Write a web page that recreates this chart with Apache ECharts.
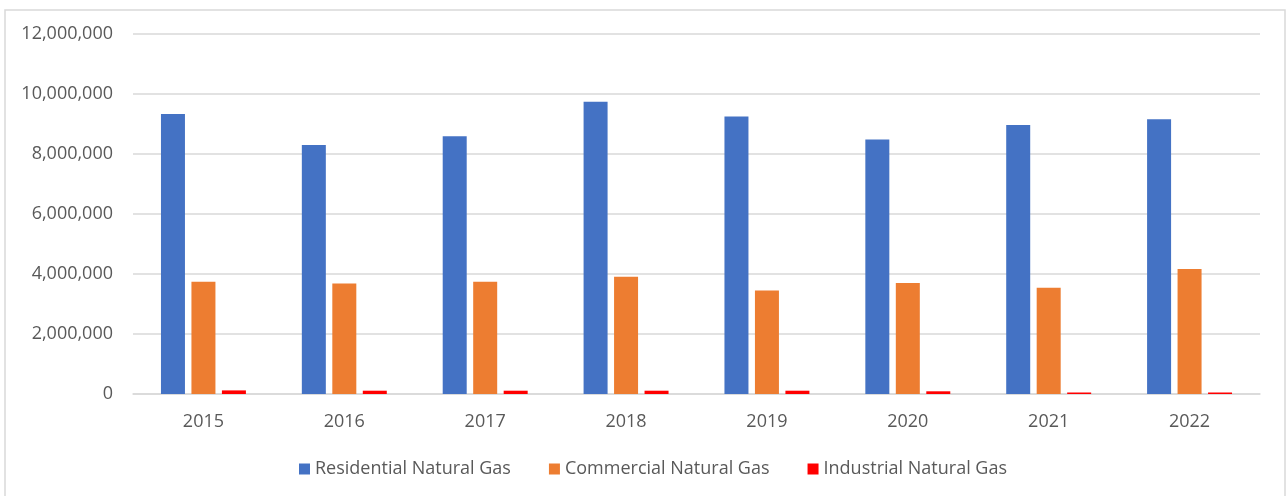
<!DOCTYPE html>
<html>
<head>
<meta charset="utf-8">
<title>Natural Gas</title>
<script src="https://cdn.jsdelivr.net/npm/echarts@6/dist/echarts.min.js"></script>
<style>
    html, body { margin: 0; padding: 0; background: #fff; }
    #chart { width: 1287px; height: 496px; }
</style>
</head>
<body>
<div id="chart"></div>
<script>
// data
const years = ['2015', '2016', '2017', '2018', '2019', '2020', '2021', '2022'];
const residential = [9330000, 8300000, 8590000, 9740000, 9250000, 8480000, 8970000, 9160000];
const commercial = [3740000, 3680000, 3740000, 3910000, 3450000, 3700000, 3540000, 4170000];
const industrial = [120000, 110000, 110000, 110000, 110000, 90000, 50000, 50000];
const seriesNames = ['Residential Natural Gas', 'Commercial Natural Gas', 'Industrial Natural Gas'];

const textColor = '#595959';
const lineColor = '#d9d9d9';
const font = "'Open Sans', sans-serif";

var chartEl = document.getElementById('chart');
var myChart = echarts.init(chartEl);

function bar(name, data, color) {
    return {
        name: name,
        type: 'bar',
        data: data,
        barWidth: 24,
        barGap: '27%',
        itemStyle: { color: color }
    };
}

var option = {
    animation: false,
    backgroundColor: '#fff',
    textStyle: { fontFamily: font },
    // frame around the chart area
    graphic: [{
        type: 'rect',
        shape: { x: 5, y: 10, width: 1280, height: 500 },
        style: { fill: 'none', stroke: lineColor, lineWidth: 1.5 },
        silent: true
    }],
    grid: {
        left: 133,
        right: 27,
        top: 34,
        bottom: 102
    },
    legend: {
        bottom: 13,
        left: 294,
        itemWidth: 11,
        itemHeight: 11,
        itemGap: 38,
        icon: 'rect',
        textStyle: { color: textColor, fontSize: 18, fontFamily: font },
        data: seriesNames
    },
    xAxis: {
        type: 'category',
        data: years,
        axisLine: { lineStyle: { color: lineColor, width: 1.5 } },
        axisTick: { show: false },
        axisLabel: { color: textColor, fontSize: 18, margin: 19, fontFamily: font }
    },
    yAxis: {
        type: 'value',
        min: 0,
        max: 12000000,
        interval: 2000000,
        axisLine: { show: false },
        axisTick: { show: false },
        splitLine: { lineStyle: { color: lineColor, width: 1.5 } },
        axisLabel: {
            color: textColor,
            fontSize: 18,
            margin: 20,
            fontFamily: font,
            formatter: function (v) { return v.toLocaleString('en-US'); }
        }
    },
    series: [
        bar(seriesNames[0], residential, '#4472c4'),
        bar(seriesNames[1], commercial, '#ed7d31'),
        bar(seriesNames[2], industrial, '#ff0000')
    ]
};

myChart.setOption(option);
window.addEventListener('resize', function () { myChart.resize(); });
</script>
</body>
</html>
